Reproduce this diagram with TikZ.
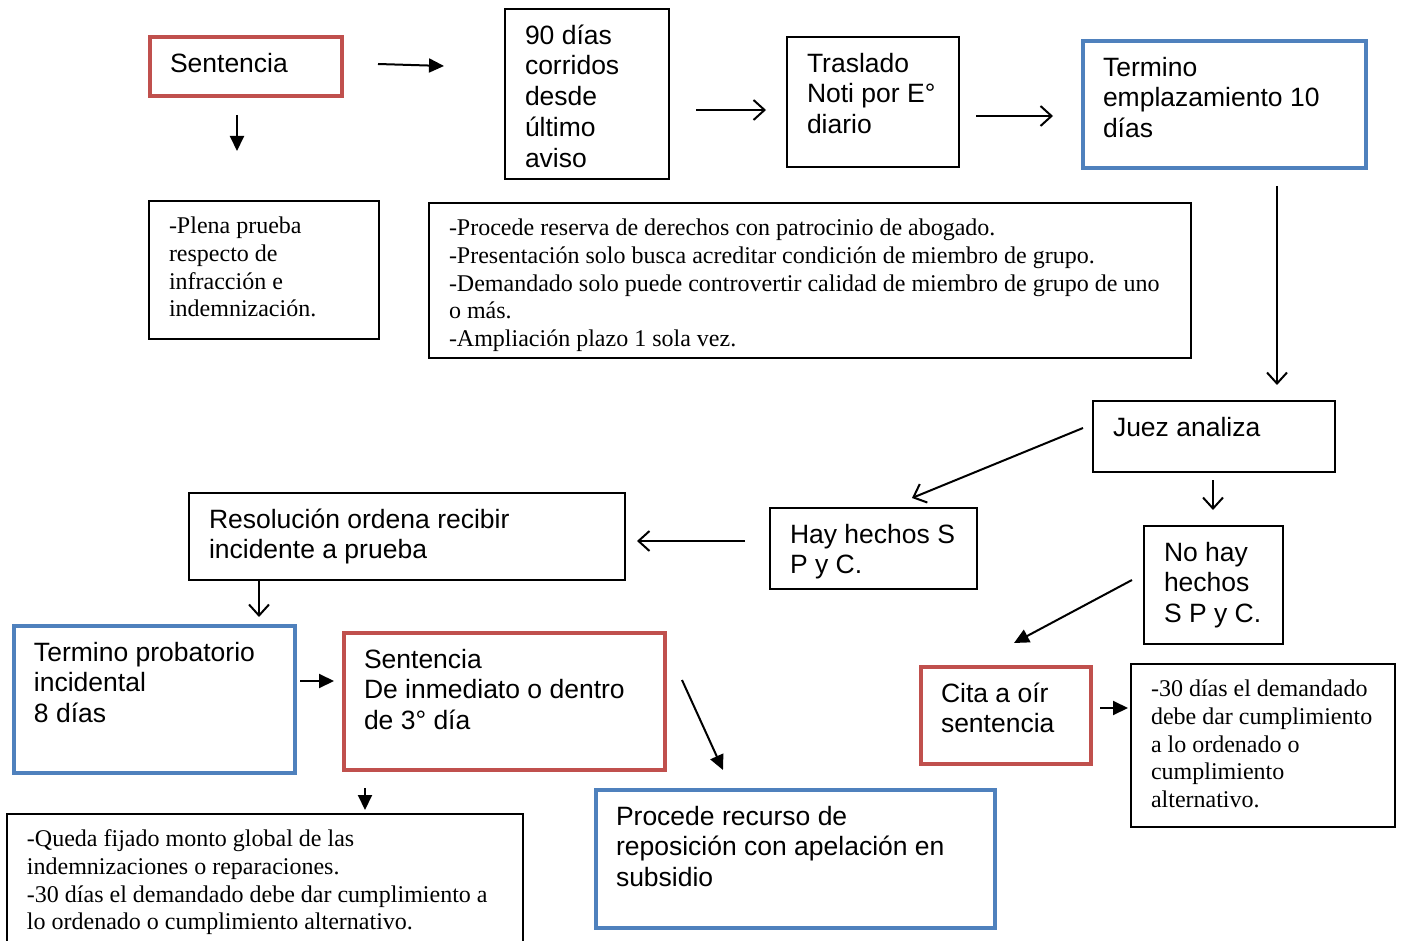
\documentclass[tikz,border=0pt]{standalone}
\usepackage{fontspec}
\setmainfont{Liberation Serif}
\newfontfamily\arialfont{Liberation Sans}
\usetikzlibrary{arrows.meta,calc}
\definecolor{boxred}{RGB}{192,80,77}
\definecolor{boxblue}{RGB}{79,129,189}
\newcommand{\arialtext}{\arialfont\fontsize{26.5pt}{30.8pt}\selectfont}
\newcommand{\timestext}{\rmfamily\fontsize{24pt}{27.6pt}\selectfont}
% box of given width and height, text at top left
\newcommand{\boxtxt}[3]{\parbox[t][\dimexpr#2pt-27pt\relax][t]{\dimexpr#1pt-40pt\relax}{\begin{tabular}[t]{@{}l@{}}#3\end{tabular}}}
\begin{document}
\begin{tikzpicture}[x=1pt,y=-1pt,
	box/.style={draw, line width=1.3pt, anchor=north west, outer sep=0pt, inner xsep=20pt, inner ysep=13.5pt, font=\arialtext},
	redbox/.style={box, draw=boxred, line width=4pt},
	bluebox/.style={box, draw=boxblue, line width=4pt},
	note/.style={box, line width=1.5pt, font=\timestext},
	openarr/.style={-{Straight Barb[length=11pt,width=20pt]}, line width=2pt},
	fillarr/.style={-{Triangle[length=15pt,width=14pt]}, line width=2pt}
	]
	\clip (0,0) rectangle (1401,941);
	% top row
	\node[redbox] (sent1) at (150,37) {\boxtxt{192}{59}{Sentencia}};
	\node[box] (dias) at (505,9) {\boxtxt{164}{170}{90 días\\corridos\\desde\\último\\aviso}};
	\node[box] (trasl) at (787,37) {\boxtxt{172}{130}{Traslado\\Noti por E°\\diario}};
	\node[bluebox] (empl) at (1083,41) {\boxtxt{283}{127}{Termino\\emplazamiento 10\\días}};
	\node[note] (plena) at (149,201) {\boxtxt{230}{138}{-Plena prueba\\respecto de\\infracción e\\indemnización.}};
	\node[note] (reserva) at (429,203) {\boxtxt{762}{155}{-Procede reserva de derechos con patrocinio de abogado.\\-Presentación solo busca acreditar condición de miembro de grupo.\\-Demandado solo puede controvertir calidad de miembro de grupo de uno\\o más.\\-Ampliación plazo 1 sola vez.}};
	% middle
	\node[box] (juez) at (1093,401) {\boxtxt{242}{71}{Juez analiza}};
	\node[box] (hay) at (770,508) {\boxtxt{207}{81}{Hay hechos S\\P y C.}};
	\node[box] (resol) at (189,493) {\boxtxt{436}{87}{Resolución ordena recibir\\incidente a prueba}};
	\node[box] (nohay) at (1144,526) {\boxtxt{139}{118}{No hay\\hechos\\S P y C.}};
	% bottom
	\node[bluebox] (tprob) at (14,626) {\boxtxt{281}{147}{Termino probatorio\\incidental\\8 días}};
	\node[redbox] (sent2) at (344,633) {\boxtxt{321}{137}{Sentencia\\De inmediato o dentro\\de 3° día}};
	\node[note] (queda) at (7,814) {\boxtxt{516}{150}{-Queda fijado monto global de las\\indemnizaciones o reparaciones.\\-30 días el demandado debe dar cumplimiento a\\lo ordenado o cumplimiento alternativo.}};
	\node[bluebox] (recurso) at (596,790) {\boxtxt{399}{138}{Procede recurso de\\reposición con apelación en\\subsidio}};
	\node[redbox] (cita) at (921,667) {\boxtxt{170}{97}{Cita a oír\\sentencia}};
	\node[note] (treinta) at (1131,664) {\boxtxt{264}{163}{-30 días el demandado\\debe dar cumplimiento\\a lo ordenado o\\cumplimiento\\alternativo.}};
	% arrows
	\draw[fillarr] ($(sent1.east)+(36,-2.5)$) -- ($(dias.west)+(-61,-28)$);
	\draw[fillarr] ($(sent1.south)+(-9,19)$) -- ($(plena.north)+(-27,-50)$);
	\draw[openarr] ($(dias.east)+(27,16)$) -- ($(trasl.west)+(-21,8)$);
	\draw[openarr] ($(trasl.east)+(17,14)$) -- ($(empl.west)+(-30,11.5)$);
	\draw[openarr] ($(empl.south)+(52.5,18)$) -- ($(juez.north)+(63,-16)$);
	\draw[openarr] ($(juez.west)+(-10,-8.5)$) -- ($(hay.north)+(38.5,-10)$);
	\draw[openarr] ($(juez.south)+(-1,8)$) -- ($(nohay.north)+(-0.5,-16)$);
	\draw[openarr] ($(hay.west)+(-25,-7.5)$) -- ($(resol.east)+(12,4.5)$);
	\draw[openarr] ($(resol.south)+(-148,0)$) -- ($(tprob.north)+(104.5,-9)$);
	\draw[fillarr] ($(nohay.west)+(-12,-5)$) -- ($(cita.north)+(8,-24)$);
	\draw[fillarr] ($(tprob.east)+(5,-18.5)$) -- ($(sent2.west)+(-10,-20.5)$);
	\draw[fillarr] ($(sent2.east)+(17,-21.5)$) -- ($(recurso.north)+(-72.5,-20)$);
	\draw[fillarr] ($(sent2.south)+(-139.5,18)$) -- ($(queda.north)+(100,-4)$);
	\draw[fillarr] ($(cita.east)+(9,-7.5)$) -- ($(treinta.west)+(-3,-37.5)$);
\end{tikzpicture}
\end{document}
